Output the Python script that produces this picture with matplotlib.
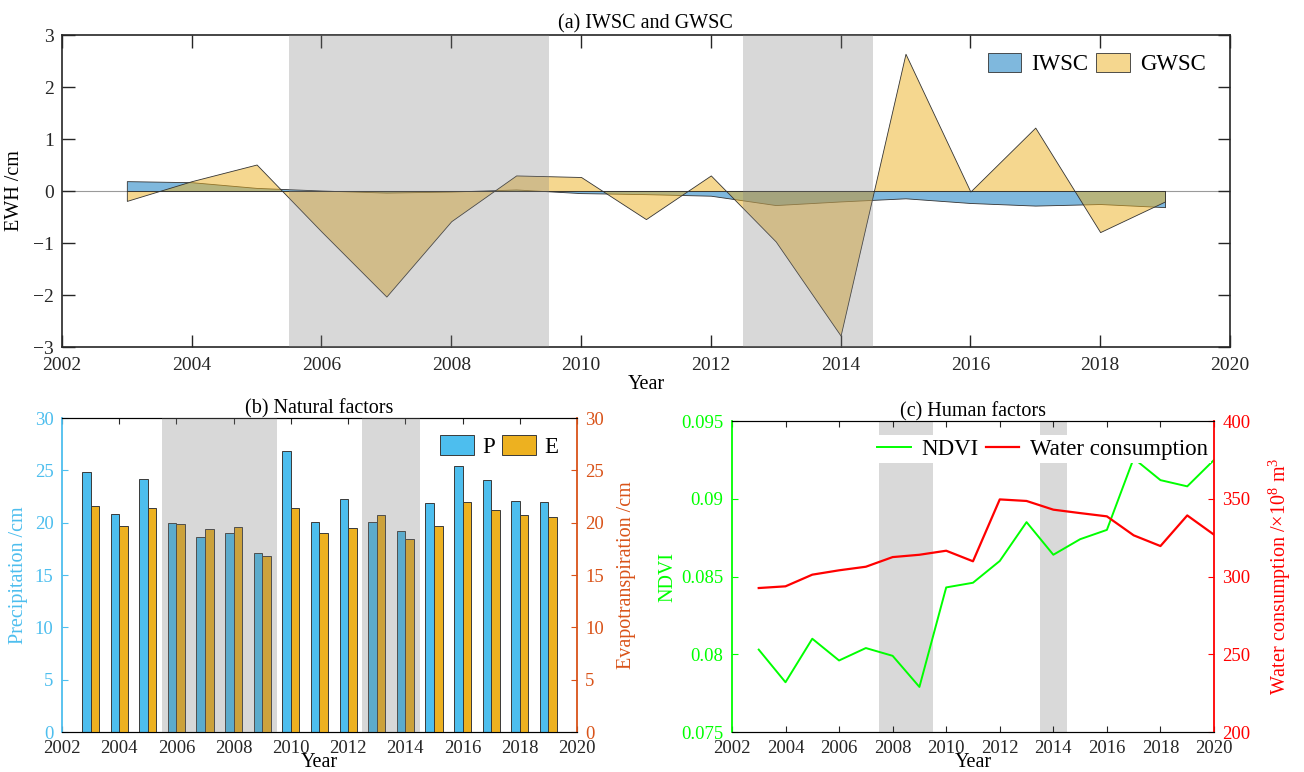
import numpy as np
import matplotlib
matplotlib.use("Agg")
import matplotlib.pyplot as plt

plt.rcParams['font.family'] = ['Liberation Serif', 'DejaVu Serif']
plt.rcParams['mathtext.fontset'] = 'custom'
plt.rcParams['mathtext.rm'] = 'Liberation Serif'
plt.rcParams['mathtext.it'] = 'Liberation Serif:italic'
plt.rcParams['font.size'] = 14

# ---- data ----
years = np.arange(2003, 2020)
iwsc = [0.19, 0.17, 0.06, 0.01, -0.03, -0.01, 0.03, -0.04, -0.06, -0.09,
        -0.27, -0.20, -0.14, -0.23, -0.28, -0.25, -0.31]
gwsc = [-0.19, 0.19, 0.51, -0.78, -2.03, -0.58, 0.30, 0.27, -0.54, 0.30,
        -0.97, -2.78, 2.64, -0.01, 1.22, -0.79, -0.20]

precip = [24.8, 20.8, 24.2, 20.0, 18.6, 19.0, 17.15, 26.85, 20.05, 22.24,
          20.08, 19.25, 21.86, 25.45, 24.08, 22.05, 21.99]
evap = [21.6, 19.73, 21.38, 19.89, 19.44, 19.6, 16.83, 21.44, 19.06, 19.54,
        20.74, 18.42, 19.73, 21.99, 21.19, 20.78, 20.59]

years_c = np.arange(2003, 2021)
ndvi = [0.0803, 0.0782, 0.0810, 0.0796, 0.0804, 0.0799, 0.0779, 0.0843,
        0.0846, 0.0860, 0.0885, 0.0864, 0.0874, 0.0880, 0.0926, 0.0912,
        0.0908, 0.0925]
water = [292.6, 293.7, 301.2, 304.0, 306.3, 312.5, 314.0, 316.6, 309.8,
         349.6, 348.6, 343.0, 340.8, 338.7, 326.5, 319.6, 339.3, 326.9]

spans_ab = [(2005.5, 2009.5), (2012.5, 2014.5)]
spans_c = [(2007.5, 2009.5), (2013.5, 2014.5)]
xticks = np.arange(2002, 2021, 2)

dark = '#262626'
blue_area = (0.0, 0.447, 0.741, 0.5)
yellow_area = (0.929, 0.694, 0.125, 0.5)
p_col = (0.301, 0.745, 0.933)
e_col = (0.929, 0.694, 0.125)
orange = (0.85, 0.325, 0.098)
tick_fs = 14
tick_fs_low = 13.5

fig = plt.figure(figsize=(13.04, 7.72), dpi=100)

# ---- (a) IWSC and GWSC ----
ax = fig.add_axes([0.0475, 0.5505, 0.8957, 0.4041])
ax.axhline(0, color='#9a9a9a', lw=0.8, zorder=1)
ax.fill_between(years, iwsc, 0, facecolor=blue_area, edgecolor='#333333',
                lw=0.6, zorder=2, label='IWSC')
ax.fill_between(years, gwsc, 0, facecolor=yellow_area, edgecolor='#333333',
                lw=0.6, zorder=2, label='GWSC')
for x0, x1 in spans_ab:
    ax.axvspan(x0, x1, color=(0.5, 0.5, 0.5), alpha=0.3, lw=0, zorder=3)
ax.set_xlim(2002, 2020)
ax.set_ylim(-3, 3)
ax.set_xticks(xticks)
ax.set_yticks(np.arange(-3, 4, 1))
ax.tick_params(direction='in', length=9, width=1, top=True, right=True,
               colors=dark, labelsize=tick_fs)
ax.tick_params(axis='x', pad=7)
ax.tick_params(axis='y', pad=6)
for s in ax.spines.values():
    s.set_color(dark)
    s.set_linewidth(1.2)
ax.set_xlabel('Year', fontsize=14.5, labelpad=1)
ax.set_ylabel('EWH /cm', fontsize=14.5, labelpad=6)
ax.set_title('(a) IWSC and GWSC', fontsize=14.5, pad=5)
leg = ax.legend(ncol=2, loc='upper right', bbox_to_anchor=(0.987, 0.973),
                borderaxespad=0, frameon=False, fontsize=16.5,
                handlelength=1.45, handleheight=0.95, handletextpad=0.45,
                columnspacing=0.35)
leg.set_zorder(5)

# ---- (b) Natural factors ----
axb = fig.add_axes([0.0475, 0.0518, 0.395, 0.4067])
axb2 = axb.twinx()
axb.bar(years - 0.15, precip, width=0.3, color=p_col, edgecolor='#3a3a3a',
        lw=0.7, zorder=2, label='P')
axb2.bar(years + 0.15, evap, width=0.3, color=e_col, edgecolor='#3a3a3a',
         lw=0.7, zorder=2, label='E')
for x0, x1 in spans_ab:
    axb2.axvspan(x0, x1, color=(0.5, 0.5, 0.5), alpha=0.3, lw=0, zorder=3)
axb.set_xlim(2002, 2020)
axb.set_ylim(0, 30)
axb2.set_ylim(0, 30)
axb.set_xticks(xticks)
axb.set_yticks(np.arange(0, 31, 5))
axb2.set_yticks(np.arange(0, 31, 5))
axb.tick_params(axis='x', direction='in', length=4, top=True, colors=dark,
                labelsize=tick_fs_low, pad=6)
axb.tick_params(axis='y', direction='in', length=4, colors=p_col,
                labelsize=tick_fs_low, pad=6)
axb2.tick_params(axis='y', direction='in', length=4, colors=orange,
                 labelsize=tick_fs_low, pad=6)
for s in ('top', 'bottom'):
    axb.spines[s].set_color(dark)
axb.spines['left'].set_color(p_col)
axb.spines['left'].set_linewidth(1.3)
axb.spines['right'].set_visible(False)
axb2.spines['left'].set_visible(False)
axb2.spines['right'].set_color(orange)
axb2.spines['right'].set_linewidth(1.3)
axb.set_xlabel('Year', fontsize=14.5, labelpad=-3)
axb.set_ylabel('Precipitation /cm', fontsize=14.5, color=p_col, labelpad=5)
axb2.set_ylabel('Evapotranspiration /cm', fontsize=14.5, color=orange,
                labelpad=9)
axb.set_title('(b) Natural factors', fontsize=14.5, pad=1)
hb = axb.get_legend_handles_labels()
hb2 = axb2.get_legend_handles_labels()
legb = axb2.legend(hb[0] + hb2[0], hb[1] + hb2[1], ncol=2, loc='upper right',
                   bbox_to_anchor=(0.981, 0.976), borderaxespad=0,
                   frameon=False, fontsize=16.5, handlelength=1.5,
                   handleheight=0.95, handletextpad=0.35, columnspacing=0.3)
legb.set_zorder(5)

# ---- (c) Human factors ----
axc = fig.add_axes([0.5613, 0.0518, 0.3697, 0.4028])
axc2 = axc.twinx()
for x0, x1 in spans_c:
    axc.axvspan(x0, x1, color='#d9d9d9', lw=0, zorder=0)
axc.plot(years_c, ndvi, color=(0, 1, 0), lw=1.4, zorder=2, label='NDVI')
axc2.plot(years_c, water, color=(1, 0, 0), lw=1.6, zorder=2,
          label='Water consumption')
axc.set_xlim(2002, 2020)
axc.set_ylim(0.075, 0.095)
axc2.set_ylim(200, 400)
axc.set_xticks(xticks)
axc.set_yticks([0.075, 0.08, 0.085, 0.09, 0.095])
axc.set_yticklabels(['0.075', '0.08', '0.085', '0.09', '0.095'])
axc2.set_yticks(np.arange(200, 401, 50))
axc.tick_params(axis='x', direction='in', length=4, top=True, colors=dark,
                labelsize=tick_fs_low, pad=6)
axc.tick_params(axis='y', direction='in', length=4, colors=(0, 1, 0),
                labelsize=tick_fs_low, pad=6)
axc2.tick_params(axis='y', direction='in', length=4, colors=(1, 0, 0),
                 labelsize=tick_fs_low, pad=6)
for s in ('top', 'bottom'):
    axc.spines[s].set_color(dark)
axc.spines['left'].set_color((0, 1, 0))
axc.spines['left'].set_linewidth(1.3)
axc.spines['right'].set_visible(False)
axc2.spines['left'].set_visible(False)
axc2.spines['right'].set_color((1, 0, 0))
axc2.spines['right'].set_linewidth(1.3)
axc.set_xlabel('Year', fontsize=14.5, labelpad=-3)
axc.set_ylabel('NDVI', fontsize=14.5, color=(0, 1, 0), labelpad=3)
axc2.set_ylabel('Water consumption /\u00d710$^8$ m$^3$', fontsize=14.5,
                color=(1, 0, 0), labelpad=12)
axc.set_title('(c) Human factors', fontsize=14.5, pad=1)
hc = axc.get_legend_handles_labels()
hc2 = axc2.get_legend_handles_labels()
legc = axc2.legend(hc[0] + hc2[0], hc[1] + hc2[1], ncol=2, loc='upper right',
                   bbox_to_anchor=(0.994, 0.955), borderaxespad=0,
                   frameon=True, fancybox=False, edgecolor='none',
                   facecolor='white', framealpha=1, borderpad=0.15,
                   fontsize=16.5, handlelength=1.45, handletextpad=0.45,
                   columnspacing=0.35)
legc.set_zorder(5)

fig.savefig('out.png', dpi=100)
